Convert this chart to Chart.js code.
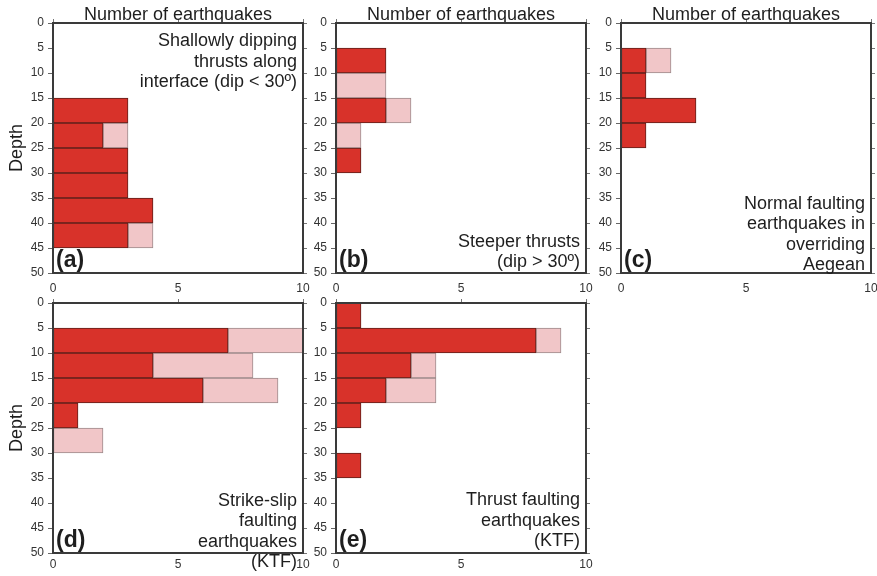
<!DOCTYPE html>
<html>
<head>
<meta charset="utf-8">
<script src="https://cdn.jsdelivr.net/npm/chart.js@4/dist/chart.umd.min.js"></script>
<style>
html, body { margin: 0; padding: 0; background: #fff; overflow: hidden; }
#wrap { position: relative; width: 877px; height: 576px; overflow: hidden; }
canvas { position: absolute; }
</style>
</head>
<body>
<div id="wrap">
  <canvas id="pa" width="316" height="296" style="left:3px;top:1px"></canvas>
  <canvas id="pb" width="316" height="296" style="left:286px;top:1px"></canvas>
  <canvas id="pc" width="316" height="296" style="left:571px;top:1px"></canvas>
  <canvas id="pd" width="316" height="296" style="left:3px;top:281px"></canvas>
  <canvas id="pe" width="316" height="296" style="left:286px;top:281px"></canvas>
</div>
<script>
// depth bins 0-5, 5-10, ... 45-50 (bin centres)
var depthMid = [2.5, 7.5, 12.5, 17.5, 22.5, 27.5, 32.5, 37.5, 42.5, 47.5];
var depthTicks = [0, 5, 10, 15, 20, 25, 30, 35, 40, 45, 50];
var countTicks = [0, 5, 10];

// counts per bin: dark = main set, light = stacked on top
var aDark  = [0, 0, 0, 3, 2, 3, 3, 4, 3, 0];
var aLight = [0, 0, 0, 0, 1, 0, 0, 0, 1, 0];
var bDark  = [0, 2, 0, 2, 0, 1, 0, 0, 0, 0];
var bLight = [0, 0, 2, 1, 1, 0, 0, 0, 0, 0];
var cDark  = [0, 1, 1, 3, 1, 0, 0, 0, 0, 0];
var cLight = [0, 1, 0, 0, 0, 0, 0, 0, 0, 0];
var dDark  = [0, 7, 4, 6, 1, 0, 0, 0, 0, 0];
var dLight = [0, 3, 4, 3, 0, 2, 0, 0, 0, 0];
var eDark  = [1, 8, 3, 2, 1, 0, 1, 0, 0, 0];
var eLight = [0, 1, 1, 2, 0, 0, 0, 0, 0, 0];

var fontFam = "'Liberation Sans', Arial, Helvetica, sans-serif";
var frame = '#3a3a3a';

function setTicks(list) {
    return function(scale) {
        scale.ticks = list.map(function(v) { return {value: v}; });
    };
}

// panel letter + description text inside the plot
var panelText = {
    id: 'panelText',
    afterDraw: function(chart, args, opts) {
        var ctx = chart.ctx, area = chart.chartArea;
        var lh = 20.5;
        ctx.save();
        ctx.fillStyle = '#1e1e1e';
        ctx.textBaseline = 'alphabetic';
        ctx.textAlign = 'left';
        ctx.font = 'bold 23px ' + fontFam;
        ctx.fillText(opts.label, area.left + 3, area.bottom - 6);
        ctx.font = '18px ' + fontFam;
        ctx.textAlign = 'right';
        var y0;
        if (opts.top != null) y0 = area.top + opts.top;
        else y0 = area.bottom + opts.bottom - lh * (opts.lines.length - 1);
        opts.lines.forEach(function(t, i) {
            ctx.fillText(t, area.right - 6, y0 + i * lh);
        });
        ctx.restore();
    }
};

function makePanel(id, dark, light, p) {
    new Chart(document.getElementById(id), {
        type: 'bar',
        data: {
            labels: depthMid,
            datasets: [{
                data: dark,
                backgroundColor: '#d8322a',
                borderColor: '#5e201b',
                borderWidth: 1,
                borderSkipped: false,
                categoryPercentage: 1,
                barPercentage: 1
            }, {
                data: light,
                backgroundColor: '#f1c6c8',
                borderColor: '#9c8a8b',
                borderWidth: 1,
                borderSkipped: false,
                categoryPercentage: 1,
                barPercentage: 1
            }]
        },
        options: {
            indexAxis: 'y',
            responsive: false,
            animation: false,
            events: [],
            layout: { padding: 0 },
            plugins: {
                legend: { display: false },
                tooltip: { enabled: false },
                panelText: p
            },
            scales: {
                x: {
                    type: 'linear', position: 'bottom', stacked: true,
                    min: 0, max: 10, offset: false,
                    afterBuildTicks: setTicks(countTicks),
                    afterFit: function(s) { s.height = 24; },
                    grid: { drawOnChartArea: false, drawTicks: false },
                    border: { color: frame, width: 2, z: 1 },
                    ticks: { color: '#333', padding: p.xPad, font: { size: 12, family: fontFam } }
                },
                x2: {
                    type: 'linear', position: 'top',
                    min: 0, max: 10, offset: false,
                    afterBuildTicks: setTicks(countTicks),
                    afterFit: function(s) { s.height = 22; },
                    grid: { drawOnChartArea: false, tickLength: 4, tickColor: '#777' },
                    border: { color: frame, width: 2, z: 1 },
                    ticks: { display: false },
                    title: {
                        display: p.showTitle, text: 'Number of earthquakes',
                        color: '#1e1e1e', padding: { top: 3, bottom: 0 },
                        font: { size: 18, family: fontFam }
                    }
                },
                y: {
                    type: 'linear', position: 'left', stacked: true, reverse: true,
                    min: 0, max: 50, offset: false,
                    afterBuildTicks: setTicks(depthTicks),
                    afterFit: function(s) { s.width = 50; },
                    grid: { offset: false, drawOnChartArea: false, tickLength: 5, tickColor: '#666' },
                    border: { color: frame, width: 2, z: 1 },
                    ticks: { color: '#333', padding: 4, font: { size: 12, family: fontFam } },
                    title: {
                        display: p.showDepth, text: 'Depth',
                        color: '#1e1e1e', padding: { top: 3, bottom: 0 },
                        font: { size: 18, family: fontFam }
                    }
                },
                y2: {
                    type: 'linear', position: 'right', reverse: true,
                    min: 0, max: 50, offset: false,
                    afterBuildTicks: setTicks(depthTicks),
                    afterFit: function(s) { s.width = 16; },
                    grid: { offset: false, drawOnChartArea: false, tickLength: 4, tickColor: '#777' },
                    border: { color: frame, width: 2, z: 1 },
                    ticks: { display: false }
                }
            }
        },
        plugins: [panelText]
    });
}

makePanel('pa', aDark, aLight, {
    label: '(a)', top: 23, showTitle: true, showDepth: true, xPad: 8,
    lines: ['Shallowly dipping', 'thrusts along', 'interface (dip < 30º)']
});
makePanel('pb', bDark, bLight, {
    label: '(b)', bottom: -6, showTitle: true, showDepth: false, xPad: 8,
    lines: ['Steeper thrusts', '(dip > 30º)']
});
makePanel('pc', cDark, cLight, {
    label: '(c)', bottom: -3, showTitle: true, showDepth: false, xPad: 8,
    lines: ['Normal faulting', 'earthquakes in', 'overriding', 'Aegean']
});
makePanel('pd', dDark, dLight, {
    label: '(d)', bottom: 14, showTitle: false, showDepth: true, xPad: 4,
    lines: ['Strike-slip', 'faulting', 'earthquakes', '(KTF)']
});
makePanel('pe', eDark, eLight, {
    label: '(e)', bottom: -7, showTitle: false, showDepth: false, xPad: 4,
    lines: ['Thrust faulting', 'earthquakes', '(KTF)']
});
</script>
</body>
</html>
